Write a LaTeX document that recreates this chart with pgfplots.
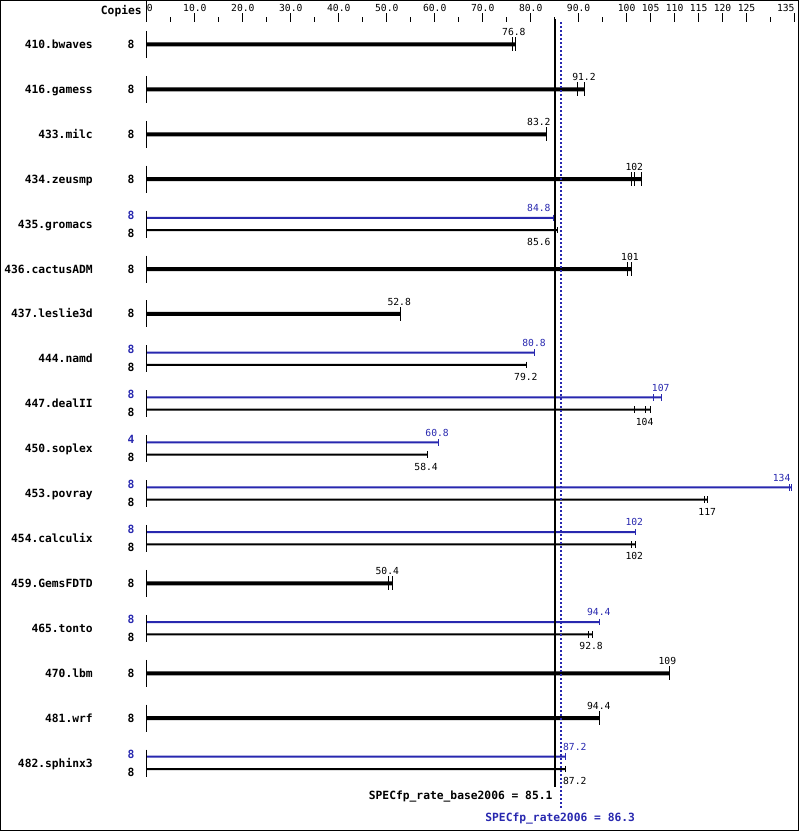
\documentclass[border=0pt]{standalone}
\usepackage{pgfplots}
\pgfplotsset{compat=1.18}
\usepackage{pgfplotstable}
\usepackage{fontspec}
\setmonofont{DejaVu Sans Mono}
\definecolor{specblue}{RGB}{40,40,175}
\tikzset{
  lbl/.style={font=\fontsize{9.7}{10}\selectfont\ttfamily, inner sep=0pt, anchor=base, yshift=-3.5pt},
  nm/.style={font=\fontsize{11.3}{12}\selectfont\ttfamily\bfseries, inner sep=0pt, anchor=base east, yshift=-4.1pt},
  cp/.style={font=\fontsize{11.3}{12}\selectfont\ttfamily\bfseries, inner sep=0pt, anchor=base, yshift=-4.1pt},
}

% base-only rows: y (negative pixel row), bar end
\pgfplotstableread{
y v
-44 76.8
-88.9 91.3
-133.9 83.2
-178.8 103.2
-268.7 101.0
-313.6 52.8
-583.3 51.1
-673.2 109.0
-718.1 94.4
}\baseonly
% end ticks of base-only rows
\pgfplotstableread{
x y
76.2 -44
76.8 -44
89.7 -88.9
91.3 -88.9
83.2 -133.9
101.0 -178.8
101.7 -178.8
103.2 -178.8
100.2 -268.7
101.0 -268.7
52.8 -313.6
50.4 -583.3
51.1 -583.3
109.0 -673.2
94.4 -718.1
}\baseonlyticks
% peak bars of two-line rows
\pgfplotstableread{
y v
-217.5 84.8
-352.3 80.8
-397.2 107.3
-442.2 60.8
-487.1 134.4
-532.0 101.8
-621.9 94.4
-756.7 87.2
}\peakbars
\pgfplotstableread{
x y
84.8 -217.5
80.8 -352.3
105.7 -397.2
107.3 -397.2
60.8 -442.2
133.9 -487.1
134.4 -487.1
101.8 -532.0
94.4 -621.9
87.2 -756.7
}\peakticks
% base bars of two-line rows
\pgfplotstableread{
y v
-229.8 85.6
-364.6 79.2
-409.5 104.9
-454.5 58.4
-499.4 116.9
-544.3 101.8
-634.2 92.8
-769 87.2
}\basebars
\pgfplotstableread{
x y
85.6 -229.8
79.2 -364.6
101.7 -409.5
104.0 -409.5
104.9 -409.5
58.4 -454.5
116.2 -499.4
116.9 -499.4
101.0 -544.3
101.8 -544.3
92.1 -634.2
92.8 -634.2
87.2 -769
}\baseticks
% row centres
\pgfplotstableread{
x y
0 -44
0 -88.9
0 -133.9
0 -178.8
0 -223.8
0 -268.7
0 -313.6
0 -358.6
0 -403.5
0 -448.5
0 -493.4
0 -538.3
0 -583.3
0 -628.2
0 -673.2
0 -718.1
0 -763
}\rows

\begin{document}
\begin{tikzpicture}
\begin{axis}[
  scale only axis,
  width=799pt, height=809.5pt,
  xmin=-30.625, xmax=135.833,
  ymin=-831, ymax=-21.5,
  axis x line*=top, axis y line=none,
  x axis line style={draw=none},
  tick align=outside,
  major tick length=8.5pt, minor tick length=4.5pt,
  tick style={black, line width=1pt},
  xtick={0,10,20,30,40,50,60,70,80,90,100,105,110,115,120,125,135},
  xticklabels={\makebox[0pt][l]{0},10.0,20.0,30.0,40.0,50.0,60.0,70.0,80.0,90.0,100,105,110,115,120,125,\makebox[0pt][r]{135}},
  minor xtick={5,15,25,35,45,55,65,75,85,95,130},
  xticklabel style={font=\fontsize{9.7}{10}\selectfont\ttfamily, inner sep=0pt, anchor=base, yshift=2pt},
  clip=false,
]
% frame of the picture
\draw[black, line width=1pt] (axis cs:-30.52,-0.5) rectangle (axis cs:135.73,-830.5);
% axis stub at 0
\addplot[black, line width=1pt] coordinates {(0,0) (0,-22)};
% row axis segments
\addplot[only marks, mark=|, mark size=13.5pt, mark options={line width=1pt, black}] table[x=x,y=y] {\rows};
% bars
\addplot[xbar, bar width=4pt, bar shift=0pt, fill=black, draw=none] table[x=v,y=y] {\baseonly};
\addplot[xbar, bar width=2pt, bar shift=0pt, fill=specblue, draw=none] table[x=v,y=y] {\peakbars};
\addplot[xbar, bar width=2pt, bar shift=0pt, fill=black, draw=none] table[x=v,y=y] {\basebars};
% end ticks
\addplot[only marks, mark=|, mark size=7pt, mark options={line width=1pt, black}] table[x=x,y=y] {\baseonlyticks};
\addplot[only marks, mark=|, mark size=3.3pt, mark options={line width=1pt, specblue}] table[x=x,y=y] {\peakticks};
\addplot[only marks, mark=|, mark size=3.3pt, mark options={line width=1pt, black}] table[x=x,y=y] {\baseticks};
% reference lines
\addplot[black, line width=2.4pt] coordinates {(85.1,-19) (85.1,-787)};
\addplot[specblue, line width=2pt, dash pattern=on 2pt off 2pt] coordinates {(86.3,-22) (86.3,-808)};
% header
\node[cp, anchor=base east] at (axis cs:-1.04,-10) {Copies};
% benchmark names
\node[nm] at (axis cs:-11.25,-44) {410.bwaves};
\node[nm] at (axis cs:-11.25,-88.9) {416.gamess};
\node[nm] at (axis cs:-11.25,-133.9) {433.milc};
\node[nm] at (axis cs:-11.25,-178.8) {434.zeusmp};
\node[nm] at (axis cs:-11.25,-223.8) {435.gromacs};
\node[nm] at (axis cs:-11.25,-268.7) {436.cactusADM};
\node[nm] at (axis cs:-11.25,-313.6) {437.leslie3d};
\node[nm] at (axis cs:-11.25,-358.6) {444.namd};
\node[nm] at (axis cs:-11.25,-403.5) {447.dealII};
\node[nm] at (axis cs:-11.25,-448.5) {450.soplex};
\node[nm] at (axis cs:-11.25,-493.4) {453.povray};
\node[nm] at (axis cs:-11.25,-538.3) {454.calculix};
\node[nm] at (axis cs:-11.25,-583.3) {459.GemsFDTD};
\node[nm] at (axis cs:-11.25,-628.2) {465.tonto};
\node[nm] at (axis cs:-11.25,-673.2) {470.lbm};
\node[nm] at (axis cs:-11.25,-718.1) {481.wrf};
\node[nm] at (axis cs:-11.25,-763) {482.sphinx3};
% copies, base-only rows
\node[cp] at (axis cs:-3.33,-44) {8};
\node[cp] at (axis cs:-3.33,-88.9) {8};
\node[cp] at (axis cs:-3.33,-133.9) {8};
\node[cp] at (axis cs:-3.33,-178.8) {8};
\node[cp] at (axis cs:-3.33,-268.7) {8};
\node[cp] at (axis cs:-3.33,-313.6) {8};
\node[cp] at (axis cs:-3.33,-583.3) {8};
\node[cp] at (axis cs:-3.33,-673.2) {8};
\node[cp] at (axis cs:-3.33,-718.1) {8};
% copies, two-line rows
\node[cp, specblue] at (axis cs:-3.33,-214.8) {8};
\node[cp] at (axis cs:-3.33,-232.8) {8};
\node[cp, specblue] at (axis cs:-3.33,-349.6) {8};
\node[cp] at (axis cs:-3.33,-367.6) {8};
\node[cp, specblue] at (axis cs:-3.33,-394.5) {8};
\node[cp] at (axis cs:-3.33,-412.5) {8};
\node[cp, specblue] at (axis cs:-3.33,-439.5) {4};
\node[cp] at (axis cs:-3.33,-457.5) {8};
\node[cp, specblue] at (axis cs:-3.33,-484.4) {8};
\node[cp] at (axis cs:-3.33,-502.4) {8};
\node[cp, specblue] at (axis cs:-3.33,-529.3) {8};
\node[cp] at (axis cs:-3.33,-547.3) {8};
\node[cp, specblue] at (axis cs:-3.33,-619.2) {8};
\node[cp] at (axis cs:-3.33,-637.2) {8};
\node[cp, specblue] at (axis cs:-3.33,-754) {8};
\node[cp] at (axis cs:-3.33,-772) {8};
% value labels, base-only rows
\node[lbl] at (axis cs:76.5,-32) {76.8};
\node[lbl] at (axis cs:91.1,-76.9) {91.2};
\node[lbl] at (axis cs:81.7,-121.9) {83.2};
\node[lbl] at (axis cs:101.6,-166.8) {102};
\node[lbl] at (axis cs:100.7,-256.7) {101};
\node[lbl] at (axis cs:52.6,-301.6) {52.8};
\node[lbl] at (axis cs:50.1,-571.3) {50.4};
\node[lbl] at (axis cs:108.5,-661.2) {109};
\node[lbl] at (axis cs:94.2,-706.1) {94.4};
% value labels, two-line rows
\node[lbl, specblue] at (axis cs:81.7,-207.8) {84.8};
\node[lbl] at (axis cs:81.7,-241.8) {85.6};
\node[lbl, specblue] at (axis cs:80.7,-342.6) {80.8};
\node[lbl] at (axis cs:79.0,-376.6) {79.2};
\node[lbl, specblue] at (axis cs:107.1,-387.5) {107};
\node[lbl] at (axis cs:103.75,-421.5) {104};
\node[lbl, specblue] at (axis cs:60.5,-432.5) {60.8};
\node[lbl] at (axis cs:58.2,-466.5) {58.4};
\node[lbl, specblue] at (axis cs:132.3,-477.4) {134};
\node[lbl] at (axis cs:116.8,-511.4) {117};
\node[lbl, specblue] at (axis cs:101.6,-522.3) {102};
\node[lbl] at (axis cs:101.6,-556.3) {102};
\node[lbl, specblue] at (axis cs:94.2,-612.2) {94.4};
\node[lbl] at (axis cs:92.6,-646.2) {92.8};
\node[lbl, specblue] at (axis cs:89.2,-747) {87.2};
\node[lbl] at (axis cs:89.2,-781) {87.2};
% summary labels
\node[cp, anchor=base east] at (axis cs:84.58,-795) {SPECfp\_rate\_base2006 = 85.1};
\node[cp, specblue] at (axis cs:86.15,-817) {SPECfp\_rate2006 = 86.3};
\end{axis}
\end{tikzpicture}
\end{document}
